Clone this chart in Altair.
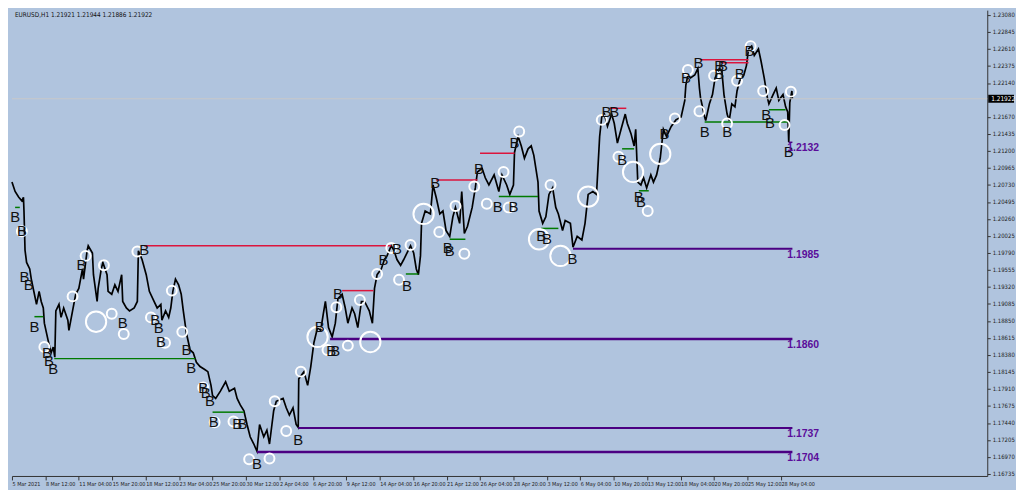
import altair as alt
import pandas as pd

# ---------------- data ----------------
# price path (bar index in hours since 5 Mar 2021, close price)
path_bar = [0, 6, 13, 19, 22, 23, 24, 25, 28, 34, 37, 43, 47, 52, 56, 60, 62, 69, 75, 79,
            82, 84, 90, 94, 99, 107, 109, 116, 122, 128, 135, 137, 144, 146, 154, 156, 163, 165, 171, 174,
            182, 184, 191, 197, 203, 210, 212, 219, 225, 234, 240, 242, 249, 257, 263, 272, 278, 285, 287, 294,
            300, 304, 308, 313, 319, 324, 328, 334, 341, 347, 353, 360, 369, 375, 381, 384, 390, 399, 409, 416,
            426, 431, 437, 444, 450, 456, 463, 469, 474, 482, 488, 493, 501, 506, 519, 525, 531, 538, 544, 548,
            549, 559, 566, 572, 578, 585, 591, 596, 600, 606, 613, 619, 624, 632, 638, 643, 651, 656, 662, 669,
            675, 684, 690, 694, 699, 707, 713, 718, 726, 731, 737, 744, 750, 763, 769, 774, 778, 782, 784, 791,
            801, 806, 812, 819, 825, 831, 838, 844, 849, 857, 861, 866, 872, 881, 887, 891, 900, 906, 913, 923,
            932, 938, 947, 953, 960, 962, 969, 975, 981, 988, 994, 999, 1007, 1009, 1016, 1022, 1028, 1035, 1041, 1046,
            1054, 1059, 1069, 1074, 1082, 1091, 1097, 1103, 1112, 1119, 1121, 1125, 1129, 1134, 1140, 1148, 1153, 1159, 1166, 1174,
            1178, 1185, 1191, 1194, 1198, 1204, 1209, 1215, 1223, 1228, 1234, 1241, 1247, 1253, 1262, 1271, 1281, 1288, 1290, 1294,
            1299, 1307, 1313, 1316, 1318, 1326, 1328, 1335, 1341, 1346, 1354, 1359, 1363, 1369, 1373, 1378, 1384, 1388, 1393, 1401,
            1406, 1410, 1416, 1421, 1429, 1434, 1440, 1446, 1449, 1457, 1463, 1468, 1476, 1481, 1485, 1487, 1489, 1493, 1494]
path_price = [1.2077, 1.2064, 1.2056, 1.2051, 1.2056, 1.2037, 1.2010, 1.1983, 1.1966, 1.1957, 1.1943, 1.1922, 1.1908, 1.1926, 1.1912, 1.1903, 1.1882, 1.1859, 1.1841, 1.1849,
              1.1835, 1.1899, 1.1908, 1.1890, 1.1903, 1.1886, 1.1872, 1.1899, 1.1922, 1.1930, 1.1957, 1.1943, 1.1983, 1.1989, 1.1979, 1.1949, 1.1912, 1.1930, 1.1957, 1.1966,
              1.1949, 1.1926, 1.1922, 1.1935, 1.1926, 1.1949, 1.1912, 1.1903, 1.1899, 1.1903, 1.1912, 1.1982, 1.1970, 1.1949, 1.1926, 1.1912, 1.1903, 1.1908, 1.1886, 1.1899,
              1.1890, 1.1903, 1.1926, 1.1943, 1.1935, 1.1922, 1.1899, 1.1868, 1.1845, 1.1841, 1.1828, 1.1822, 1.1818, 1.1815, 1.1796, 1.1782, 1.1778, 1.1788, 1.1801, 1.1788,
              1.1792, 1.1778, 1.1769, 1.1761, 1.1742, 1.1725, 1.1715, 1.1705, 1.1742, 1.1725, 1.1734, 1.1715, 1.1761, 1.1774, 1.1778, 1.1765, 1.1755, 1.1765, 1.1742, 1.1738,
              1.1805, 1.1815, 1.1796, 1.1822, 1.1855, 1.1876, 1.1872, 1.1895, 1.1912, 1.1876, 1.1863, 1.1882, 1.1916, 1.1922, 1.1903, 1.1882, 1.1903, 1.1895, 1.1876, 1.1912,
              1.1912, 1.1899, 1.1882, 1.1930, 1.1949, 1.1957, 1.1970, 1.1975, 1.1989, 1.1983, 1.1970, 1.1962, 1.1970, 1.1989, 1.1979, 1.1957, 1.1949, 1.1975, 1.2020, 1.2037,
              1.2033, 1.2073, 1.2056, 1.2033, 1.2037, 1.2010, 1.2002, 1.2029, 1.2042, 1.2020, 1.2064, 1.2006, 1.2016, 1.2042, 1.2069, 1.2091, 1.2096, 1.2083, 1.2073, 1.2087,
              1.2064, 1.2087, 1.2073, 1.2060, 1.2073, 1.2118, 1.2140, 1.2127, 1.2110, 1.2123, 1.2127, 1.2114, 1.2077, 1.2037, 1.2020, 1.2029, 1.2060, 1.2069, 1.2042, 1.2033,
              1.2010, 1.2024, 1.2020, 1.1987, 1.2002, 1.1997, 1.2020, 1.2060, 1.2064, 1.2060, 1.2087, 1.2140, 1.2167, 1.2171, 1.2154, 1.2171, 1.2158, 1.2131, 1.2150, 1.2171,
              1.2158, 1.2144, 1.2127, 1.2150, 1.2077, 1.2073, 1.2083, 1.2069, 1.2087, 1.2077, 1.2087, 1.2110, 1.2150, 1.2140, 1.2154, 1.2163, 1.2167, 1.2190, 1.2211, 1.2225,
              1.2221, 1.2225, 1.2234, 1.2207, 1.2194, 1.2167, 1.2162, 1.2185, 1.2198, 1.2221, 1.2234, 1.2230, 1.2198, 1.2171, 1.2162, 1.2185, 1.2181, 1.2203, 1.2217, 1.2225,
              1.2238, 1.2261, 1.2265, 1.2252, 1.2261, 1.2244, 1.2221, 1.2194, 1.2185, 1.2198, 1.2207, 1.2190, 1.2198, 1.2181, 1.2174, 1.2132, 1.2187, 1.2203, 1.2192]

# horizontal levels
level_kind = ["red", "red", "red", "red", "red", "red", "red",
              "green", "green", "green", "green", "green", "green", "green", "green", "green", "green", "green", "green",
              "purple", "purple", "purple", "purple", "purple"]
level_price = [1.1989, 1.1927, 1.2080, 1.2117, 1.2179, 1.2246, 1.2242,
               1.1833, 1.1759, 1.1891, 1.2042, 1.1950, 1.1998, 1.2057, 1.2013, 1.2123, 1.2065, 1.2160, 1.2177,
               1.1985, 1.1860, 1.1737, 1.1704, 1.2132]
level_start = [253, 632, 812, 896, 1144, 1318, 1359,
               81, 384, 43, 6, 754, 838, 932, 1013, 1168, 1200, 1326, 1449,
               1074, 609, 548, 469, 1487]
level_end = [726, 692, 891, 962, 1176, 1410, 1410,
             351, 444, 60, 15, 778, 868, 1007, 1046, 1191, 1219, 1487, 1481,
             1494, 1494, 1494, 1494, 1494]
level_width = [1.5, 1.5, 1.5, 1.5, 1.5, 1.5, 1.5,
               1.5, 1.5, 1.5, 1.5, 1.5, 1.5, 1.5, 1.5, 1.5, 1.5, 1.5, 1.5,
               2, 2.5, 2, 2.5, 1.5]

# purple level labels
tag_text = ["1.1985", "1.1860", "1.1737", "1.1704", "1.2132"]
tag_price = [1.1985, 1.1860, 1.1737, 1.1704, 1.2132]
tag_bar = [1490, 1490, 1490, 1490, 1490]

# white circles (bar, price, size)
circ_bar = [19, 62, 116, 141, 176, 161, 191, 214, 240, 266, 293, 306, 326, 366, 388, 424, 454, 493, 525, 503,
            553, 585, 604, 643, 686, 621, 666, 699, 741, 726, 763, 788, 818, 849, 866, 885, 909, 941, 951, 971,
            1009, 1050, 1031, 1103, 1129, 1161, 1189, 1241, 1217, 1269, 1294, 1316, 1344, 1369, 1388, 1414, 1438, 1479, 1491]
circ_price = [1.2009, 1.1849, 1.1919, 1.1975, 1.1962, 1.1884, 1.1895, 1.1867, 1.1981, 1.1890, 1.1855, 1.1927, 1.1870, 1.1793, 1.1745, 1.1746, 1.1694, 1.1695, 1.1733, 1.1774,
              1.1815, 1.1863, 1.1845, 1.1851, 1.1856, 1.1904, 1.1914, 1.1950, 1.1942, 1.1986, 1.1990, 1.2033, 1.2008, 1.2044, 1.1978, 1.2071, 1.2047, 1.2091, 1.2042, 1.2147,
              1.1998, 1.1975, 1.2073, 1.2057, 1.2163, 1.2112, 1.2091, 1.2116, 1.2037, 1.2165, 1.2232, 1.2175, 1.2224, 1.2158, 1.2217, 1.2265, 1.2203, 1.2156, 1.2202]
circ_big = [0, 0, 0, 0, 0, 1, 0, 0, 0, 0, 0, 0, 0, 0, 0, 0, 0, 0, 0, 0,
            0, 1, 0, 0, 1, 0, 0, 0, 0, 0, 0, 1, 0, 0, 0, 0, 0, 0, 0, 0,
            1, 1, 0, 1, 0, 0, 1, 1, 0, 0, 0, 0, 0, 0, 0, 0, 0, 0, 0]

# "B" labels (bar, price)
b_bar = [6, 19, 24, 32, 43, 67, 71, 79, 133, 212, 253, 274, 281, 285, 334, 343, 366, 371, 379, 386,
         431, 441, 469, 548, 611, 619, 589, 624, 711, 737, 756, 810, 834, 838, 894, 930, 960, 962, 1013, 1024,
         1073, 1138, 1153, 1168, 1200, 1204, 1249, 1290, 1314, 1326, 1354, 1361, 1354, 1369, 1393, 1412, 1444, 1451, 1487]
b_price = [1.2029, 1.2010, 1.1946, 1.1935, 1.1876, 1.1841, 1.1829, 1.1818, 1.1963, 1.1882, 1.1983, 1.1887, 1.1875, 1.1856, 1.1845, 1.1820, 1.1792, 1.1785, 1.1774, 1.1745,
           1.1743, 1.1743, 1.1687, 1.1721, 1.1844, 1.1844, 1.1876, 1.1922, 1.1969, 1.1985, 1.1934, 1.2076, 1.1986, 1.1982, 1.2095, 1.2042, 1.2042, 1.2131, 1.2002, 1.1998,
           1.1970, 1.2174, 1.2174, 1.2108, 1.2056, 1.2049, 1.2143, 1.2221, 1.2242, 1.2146, 1.2237, 1.2237, 1.2226, 1.2146, 1.2226, 1.2258, 1.2169, 1.2158, 1.2118]

# axes
y_ticks = [1.23080, 1.22845, 1.22610, 1.22375, 1.22140, 1.21670, 1.21435, 1.21200, 1.20965, 1.20730,
           1.20495, 1.20260, 1.20025, 1.19790, 1.19555, 1.19320, 1.19085, 1.18850, 1.18615, 1.18380,
           1.18145, 1.17910, 1.17675, 1.17440, 1.17205, 1.16970, 1.16735]
x_labels = ["5 Mar 2021", "8 Mar 12:00", "11 Mar 04:00", "15 Mar 20:00", "18 Mar 12:00", "23 Mar 04:00",
            "25 Mar 20:00", "30 Mar 12:00", "2 Apr 04:00", "6 Apr 20:00", "9 Apr 12:00", "14 Apr 04:00",
            "16 Apr 20:00", "21 Apr 12:00", "26 Apr 04:00", "28 Apr 20:00", "3 May 12:00", "6 May 04:00",
            "10 May 20:00", "13 May 12:00", "18 May 04:00", "20 May 20:00", "25 May 12:00", "28 May 04:00"]
x_tick_step = 64
current_price = 1.21922
title_text = "EURUSD,H1  1.21921 1.21944 1.21886 1.21922"

# ---------------- chart ----------------
W, H = 984, 470
BG = "#B0C4DE"
FONT = "Liberation Sans"
SMALL = "Liberation Sans Narrow, DejaVu Sans Condensed, Liberation Sans, sans-serif"
xdom = [0, 1867]
ydom = [1.16708, 1.23147]

xs = alt.Scale(domain=xdom, nice=False, zero=False)
ys = alt.Scale(domain=ydom, nice=False, zero=False)

label_arr = "[" + ",".join("'" + s + "'" for s in x_labels) + "]"
x_axis = alt.Axis(values=[i * x_tick_step for i in range(len(x_labels))],
                  labelExpr=label_arr + "[round(datum.value/%d)]" % x_tick_step,
                  labelAlign="left", labelFontSize=5.5, labelFont=SMALL, labelColor="#222",
                  labelPadding=2, tickSize=4, tickColor="#333", domainColor="#333",
                  grid=False, title=None, labelOverlap=False, labelFlush=False)
y_axis = alt.Axis(orient="right", values=y_ticks, format=".5f", labelFontSize=6, labelFont=SMALL,
                  labelColor="#222", tickSize=3, tickColor="#333", domainColor="#333",
                  grid=False, title=None, labelPadding=2, labelOverlap=False, labelFlush=False)

path_df = pd.DataFrame({"bar": path_bar, "price": path_price})
lvl_df = pd.DataFrame({"kind": level_kind, "price": level_price, "start": level_start,
                       "end": level_end, "w": level_width})
tag_df = pd.DataFrame({"t": tag_text, "price": tag_price, "bar": tag_bar})
circ_df = pd.DataFrame({"bar": circ_bar, "price": circ_price, "big": circ_big})
b_df = pd.DataFrame({"bar": b_bar, "price": b_price, "t": ["B"] * len(b_bar)})
cur_df = pd.DataFrame({"price": [current_price], "t": ["%.5f" % current_price]})
title_df = pd.DataFrame({"t": [title_text]})

X = lambda f: alt.X(f, scale=xs, axis=x_axis)
Y = lambda f: alt.Y(f, scale=ys, axis=y_axis)

cur_line = alt.Chart(cur_df).mark_rule(color="#C8C8C8", strokeWidth=1).encode(y=Y("price:Q"))

price_line = alt.Chart(path_df).mark_line(color="black", strokeWidth=1.7, interpolate="linear").encode(
    x=X("bar:Q"), y=Y("price:Q"))

levels = alt.Chart(lvl_df).mark_rule().encode(
    x=X("start:Q"), x2="end:Q",
    y=Y("price:Q"),
    color=alt.Color("kind:N", scale=alt.Scale(domain=["red", "green", "purple"],
                                              range=["#DC143C", "#007A00", "#4B0082"]), legend=None),
    strokeWidth=alt.StrokeWidth("w:Q", scale=None))

tags = alt.Chart(tag_df).mark_text(align="left", baseline="middle", dx=-3, dy=6, fontSize=10.5,
                                   fontWeight="bold", font=FONT, color="#5A0D9A").encode(
    x=X("bar:Q"), y=Y("price:Q"), text="t:N")

circles = alt.Chart(circ_df).mark_point(shape="circle", filled=False, color="white", strokeWidth=2,
                                        opacity=1).encode(
    x=X("bar:Q"), y=Y("price:Q"),
    size=alt.Size("big:Q", scale=alt.Scale(domain=[0, 1], range=[100, 420]), legend=None))

bees = alt.Chart(b_df).mark_text(fontSize=15, font=FONT, color="#111", align="center",
                                 baseline="middle").encode(
    x=X("bar:Q"), y=Y("price:Q"), text="t:N")

cur_box = alt.Chart(cur_df).transform_calculate(
    lo="datum.price - 0.00055", hi="datum.price + 0.00055").mark_rect(color="black").encode(
    x=alt.value(W + 1), x2=alt.value(W + 27),
    y=Y("lo:Q"), y2="hi:Q")
cur_txt = alt.Chart(cur_df).mark_text(align="left", baseline="middle", fontSize=6.5, font=SMALL,
                                      color="white").encode(
    x=alt.value(W + 4), y=Y("price:Q"), text="t:N")

title = alt.Chart(title_df).mark_text(align="left", baseline="middle", fontSize=6.5, font=SMALL,
                                      color="#111").encode(
    x=alt.value(3), y=alt.value(5), text="t:N")

chart = alt.layer(price_line, cur_line, levels, circles, bees, tags, cur_box, cur_txt, title).properties(
    width=W, height=H, background=BG, padding=0
).configure_view(stroke=None, fill=BG).configure_axis(labelOverlap=False)

chart.save("out.html", embed_options={"renderer": "svg", "actions": False})
